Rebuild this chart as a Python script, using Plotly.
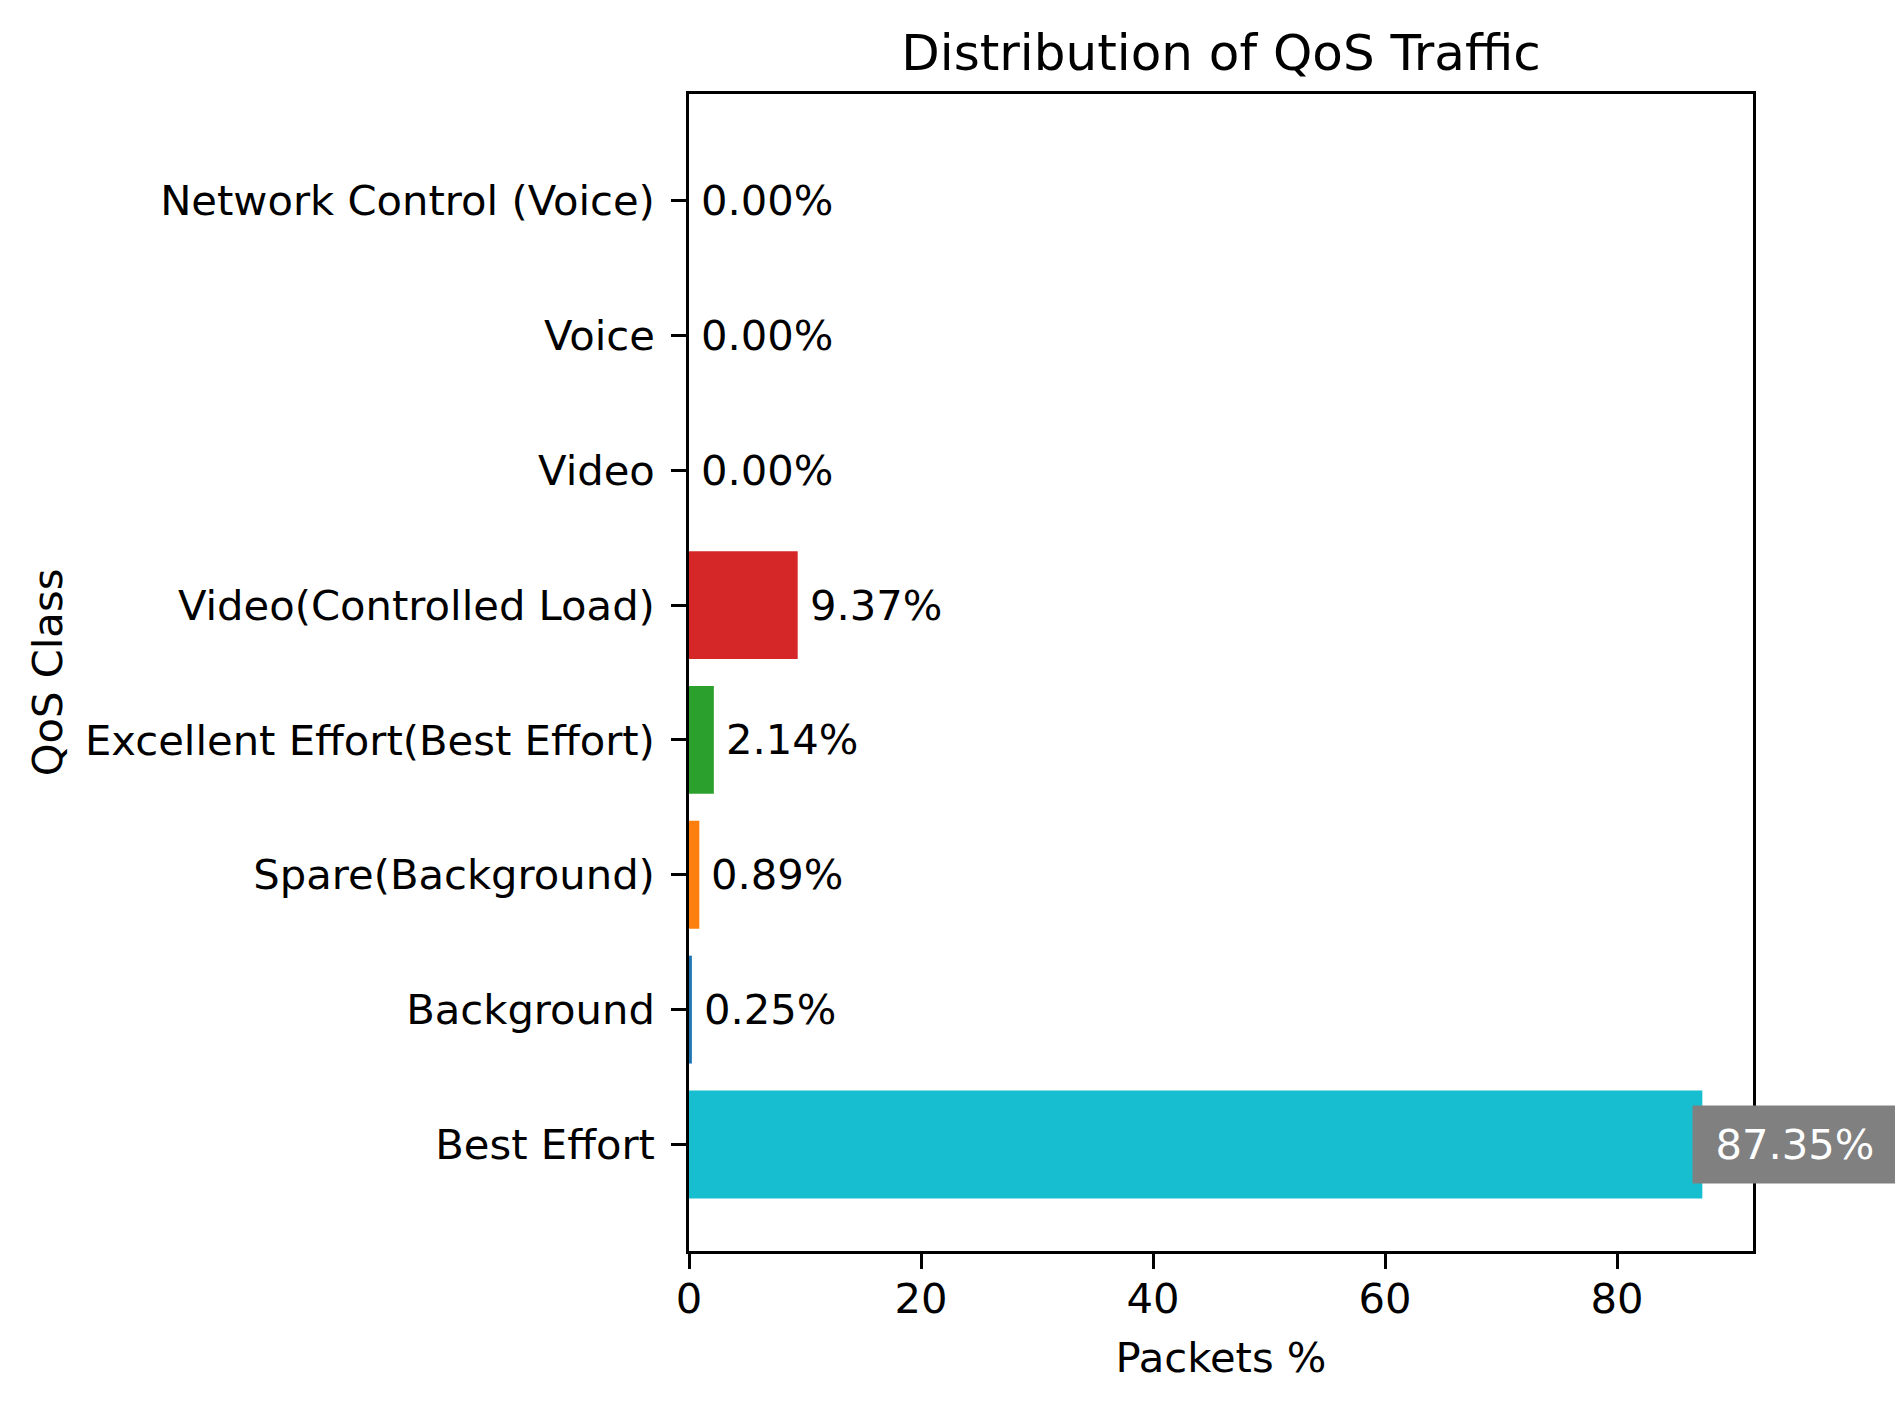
import plotly.graph_objects as go

categories = ["Best Effort", "Background", "Spare(Background)", "Excellent Effort(Best Effort)",
              "Video(Controlled Load)", "Video", "Voice", "Network Control (Voice)"]
values = [87.35, 0.25, 0.89, 2.14, 9.37, 0.00, 0.00, 0.00]
colors = ["#17becf", "#1f77b4", "#ff7f0e", "#2ca02c", "#d62728", "#9467bd", "#8c564b", "#e377c2"]
x_ticks = [0, 20, 40, 60, 80]

FONT = "DejaVu Sans"
FS = 41.7
LW = 3.33

fig = go.Figure()
fig.add_trace(go.Bar(
    x=values, y=categories, orientation="h", width=0.8,
    marker=dict(color=colors, line=dict(width=0)), showlegend=False,
))

vmax = max(values)
for cat, v in zip(categories, values):
    if v == vmax:
        fig.add_annotation(x=v, y=cat, xref="x", yref="y", text=f"{v:.2f}%",
                           showarrow=False, xanchor="left", yanchor="middle", xshift=-10,
                           font=dict(family=FONT, size=FS, color="white"),
                           bgcolor="#808080", borderpad=14, width=176, align="center")
    else:
        fig.add_annotation(x=v, y=cat, xref="x", yref="y", text=f"{v:.2f}%",
                           showarrow=False, xanchor="left", yanchor="middle", xshift=11,
                           borderpad=0,
                           font=dict(family=FONT, size=FS, color="black"))

# page body has an 8px margin; compensate so the plot area lands at the reference pixels
fig.update_layout(
    width=1903, height=1408,
    margin=dict(l=681, r=158, t=86, b=165, autoexpand=False),
    paper_bgcolor="white", plot_bgcolor="white",
    font=dict(family=FONT, size=FS, color="black"),
    title=dict(text="Distribution of QoS Traffic", x=0.5, xref="paper", xanchor="center",
               y=1, yref="paper", yanchor="bottom", pad=dict(b=24),
               font=dict(family=FONT, size=50, color="black")),
    xaxis=dict(range=[0, vmax * 1.05], tickvals=x_ticks, ticktext=[str(t) for t in x_ticks],
               ticks="outside", ticklen=14.6, tickwidth=LW, tickcolor="black",
               showline=True, linecolor="black", linewidth=LW, mirror=True,
               showgrid=False, zeroline=False, automargin=False, ticklabelstandoff=-6,
               tickfont=dict(family=FONT, size=FS, color="black"),
               title=dict(text="Packets %", standoff=22, font=dict(family=FONT, size=FS, color="black"))),
    yaxis=dict(range=[-0.79, 7.79], type="category", categoryorder="array", categoryarray=categories,
               ticks="outside", ticklen=14.6, tickwidth=LW, tickcolor="black",
               showline=True, linecolor="black", linewidth=LW, mirror=True,
               showgrid=False, zeroline=False, automargin=False, ticklabelstandoff=8,
               tickfont=dict(family=FONT, size=FS, color="black"),
               title=dict(text="QoS Class", standoff=10, font=dict(family=FONT, size=FS, color="black"))),
)

fig.write_html("out.html")
